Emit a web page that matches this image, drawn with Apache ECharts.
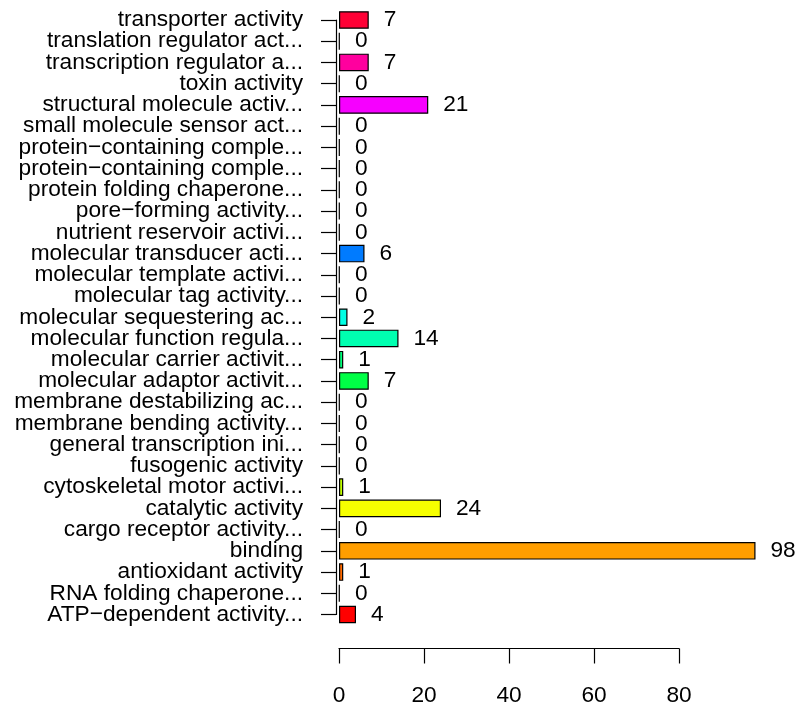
<!DOCTYPE html>
<html>
<head>
<meta charset="utf-8">
<script src="https://cdn.jsdelivr.net/npm/echarts@6/dist/echarts.min.js"></script>
<style>
html,body{margin:0;padding:0;background:#fff;}
#chart{width:797px;height:705px;}
</style>
</head>
<body>
<div id="chart"></div>
<script>
// categories listed bottom to top
const categories = [
  "ATP\u2212dependent activity...",
  "RNA folding chaperone...",
  "antioxidant activity",
  "binding",
  "cargo receptor activity...",
  "catalytic activity",
  "cytoskeletal motor activi...",
  "fusogenic activity",
  "general transcription ini...",
  "membrane bending activity...",
  "membrane destabilizing ac...",
  "molecular adaptor activit...",
  "molecular carrier activit...",
  "molecular function regula...",
  "molecular sequestering ac...",
  "molecular tag activity...",
  "molecular template activi...",
  "molecular transducer acti...",
  "nutrient reservoir activi...",
  "pore\u2212forming activity...",
  "protein folding chaperone...",
  "protein\u2212containing comple...",
  "protein\u2212containing comple...",
  "small molecule sensor act...",
  "structural molecule activ...",
  "toxin activity",
  "transcription regulator a...",
  "translation regulator act...",
  "transporter activity"
];
const counts = [4, 0, 1, 98, 0, 24, 1, 0, 0, 0, 0, 7, 1, 14, 2, 0, 0, 6, 0, 0, 0, 0, 0, 0, 21, 0, 7, 0, 7];
const barColors = [
  "#FF0000", "#FF3500", "#FF6A00", "#FF9E00", "#FFD300", "#F6FF00", "#C1FF00", "#8CFF00",
  "#58FF00", "#23FF00", "#00FF12", "#00FF46", "#00FF7B", "#00FFB0", "#00FFE4", "#00E4FF",
  "#00B0FF", "#007BFF", "#0046FF", "#0012FF", "#2300FF", "#5800FF", "#8C00FF", "#C100FF",
  "#F600FF", "#FF00D3", "#FF009E", "#FF006A", "#FF0035"
];
const xTicks = [0, 20, 40, 60, 80];

const font = "'Liberation Sans', Arial, sans-serif";
const fs = 22.7;

const chart = echarts.init(document.getElementById('chart'), null, {renderer: 'canvas'});
chart.setOption({
  backgroundColor: '#ffffff',
  animation: false,
  grid: {left: 339, width: 340, top: 20, height: 594.5, containLabel: false, outerBoundsMode: 'none'},
  xAxis: {
    type: 'value',
    min: xTicks[0],
    max: xTicks[xTicks.length - 1],
    interval: xTicks[1] - xTicks[0],
    position: 'bottom',
    offset: 34,
    axisLine: {show: true, onZero: false, lineStyle: {color: '#000', width: 1.2}},
    axisTick: {show: true, length: 15, lineStyle: {color: '#000', width: 1.2}},
    splitLine: {show: false},
    axisLabel: {color: '#000', fontSize: fs, fontFamily: font, margin: 36}
  },
  yAxis: {
    type: 'category',
    data: categories,
    boundaryGap: false,
    position: 'left',
    offset: 3,
    axisLine: {show: true, onZero: false, lineStyle: {color: '#000', width: 1.2}},
    axisTick: {show: true, length: 15, alignWithLabel: true, lineStyle: {color: '#000', width: 1.2}},
    splitLine: {show: false},
    axisLabel: {color: '#000', fontSize: fs, fontFamily: font, margin: 33, interval: 0}
  },
  series: [{
    type: 'bar',
    clip: false,
    barCategoryGap: '17%',
    barMinHeight: 0.6,
    data: counts.map((v, i) => ({value: v, itemStyle: {color: barColors[i]}})),
    itemStyle: {borderColor: '#000', borderWidth: 1.2},
    label: {
      show: true, position: 'right', distance: 15,
      color: '#000', fontSize: fs, fontFamily: font
    }
  }]
});
</script>
</body>
</html>
